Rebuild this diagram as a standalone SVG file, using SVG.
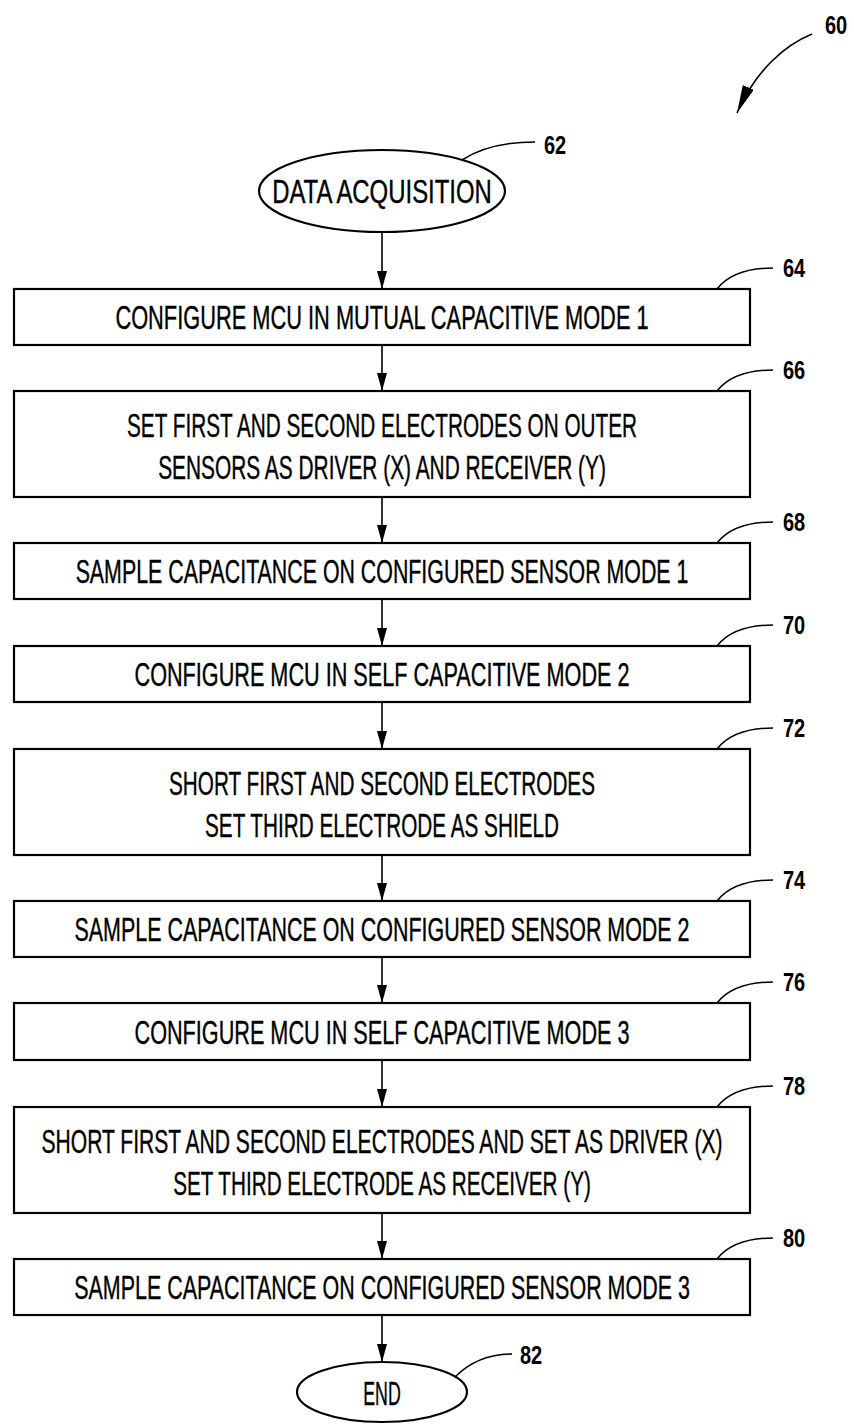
<svg xmlns="http://www.w3.org/2000/svg" width="854" height="1425" viewBox="0 0 854 1425">
<style>
.box{fill:#fff;stroke:#000;stroke-width:2.2}
.t{font-family:"Liberation Sans",Arial,sans-serif;font-size:34px;fill:#000;stroke:#000;stroke-width:0.4;text-anchor:middle}
.lbl{font-family:"Liberation Sans",Arial,sans-serif;font-size:25px;font-weight:bold;fill:#000}
.lead{fill:none;stroke:#000;stroke-width:1.6}
.conn{fill:none;stroke:#000;stroke-width:1.6}
</style>
<defs>
<marker id="ah" markerUnits="userSpaceOnUse" markerWidth="18" markerHeight="10" refX="18" refY="5" orient="auto">
<path d="M0,0 L18,5 L0,10 z" fill="#000"/>
</marker>
<marker id="ahb" markerUnits="userSpaceOnUse" markerWidth="28" markerHeight="12" refX="28" refY="6" orient="auto">
<path d="M0,0 L28,6 L0,12 z" fill="#000"/>
</marker>
</defs>

<g id="ref60">
<path class="lead" d="M812,34 C785,45 756,70 737,113" marker-end="url(#ahb)"/>
<text class="lbl" transform="translate(825,34) scale(0.8,1)">60</text>
</g>

<g id="n62">
<ellipse class="box" cx="382" cy="191" rx="123" ry="41"/>
<text class="t" transform="translate(382,203) scale(0.75,1)" textLength="293" lengthAdjust="spacingAndGlyphs">DATA ACQUISITION</text>
<path class="lead" d="M462,160 C482,147 505,142 535,142"/>
<text class="lbl" transform="translate(544,154) scale(0.8,1)">62</text>
</g>

<g id="n64">
<rect class="box" x="14" y="289" width="736" height="56"/>
<text class="t" transform="translate(382,329) scale(0.75,1)" textLength="711" lengthAdjust="spacingAndGlyphs">CONFIGURE MCU IN MUTUAL CAPACITIVE MODE 1</text>
<path class="lead" d="M717,289 C728,275 745,268 773,268"/>
<text class="lbl" transform="translate(783,277) scale(0.8,1)">64</text>
</g>

<g id="n66">
<rect class="box" x="14" y="391" width="736" height="106"/>
<text class="t" transform="translate(382,437) scale(0.75,1)" textLength="680" lengthAdjust="spacingAndGlyphs">SET FIRST AND SECOND ELECTRODES ON OUTER</text>
<text class="t" transform="translate(382,479) scale(0.75,1)" textLength="597" lengthAdjust="spacingAndGlyphs">SENSORS AS DRIVER (X) AND RECEIVER (Y)</text>
<path class="lead" d="M717,391 C728,377 745,370 773,370"/>
<text class="lbl" transform="translate(783,379) scale(0.8,1)">66</text>
</g>

<g id="n68">
<rect class="box" x="14" y="543" width="736" height="56"/>
<text class="t" transform="translate(382,583) scale(0.75,1)" textLength="817" lengthAdjust="spacingAndGlyphs">SAMPLE CAPACITANCE ON CONFIGURED SENSOR MODE 1</text>
<path class="lead" d="M717,543 C728,529 745,522 773,522"/>
<text class="lbl" transform="translate(783,531) scale(0.8,1)">68</text>
</g>

<g id="n70">
<rect class="box" x="14" y="646" width="736" height="56"/>
<text class="t" transform="translate(382,686) scale(0.75,1)" textLength="660" lengthAdjust="spacingAndGlyphs">CONFIGURE MCU IN SELF CAPACITIVE MODE 2</text>
<path class="lead" d="M717,646 C728,632 745,625 773,625"/>
<text class="lbl" transform="translate(783,634) scale(0.8,1)">70</text>
</g>

<g id="n72">
<rect class="box" x="14" y="749" width="736" height="106"/>
<text class="t" transform="translate(382,795) scale(0.75,1)" textLength="568" lengthAdjust="spacingAndGlyphs">SHORT FIRST AND SECOND ELECTRODES</text>
<text class="t" transform="translate(382,837) scale(0.75,1)" textLength="472" lengthAdjust="spacingAndGlyphs">SET THIRD ELECTRODE AS SHIELD</text>
<path class="lead" d="M717,749 C728,735 745,728 773,728"/>
<text class="lbl" transform="translate(783,737) scale(0.8,1)">72</text>
</g>

<g id="n74">
<rect class="box" x="14" y="901" width="736" height="56"/>
<text class="t" transform="translate(382,941) scale(0.75,1)" textLength="820" lengthAdjust="spacingAndGlyphs">SAMPLE CAPACITANCE ON CONFIGURED SENSOR MODE 2</text>
<path class="lead" d="M717,901 C728,887 745,880 773,880"/>
<text class="lbl" transform="translate(783,889) scale(0.8,1)">74</text>
</g>

<g id="n76">
<rect class="box" x="14" y="1003" width="736" height="57"/>
<text class="t" transform="translate(382,1044) scale(0.75,1)" textLength="660" lengthAdjust="spacingAndGlyphs">CONFIGURE MCU IN SELF CAPACITIVE MODE 3</text>
<path class="lead" d="M717,1003 C728,989 745,982 773,982"/>
<text class="lbl" transform="translate(783,991) scale(0.8,1)">76</text>
</g>

<g id="n78">
<rect class="box" x="14" y="1107" width="736" height="106"/>
<text class="t" transform="translate(382,1153) scale(0.6,1)" textLength="1135" lengthAdjust="spacingAndGlyphs">SHORT FIRST AND SECOND ELECTRODES AND SET AS DRIVER (X)</text>
<text class="t" transform="translate(382,1195) scale(0.75,1)" textLength="557" lengthAdjust="spacingAndGlyphs">SET THIRD ELECTRODE AS RECEIVER (Y)</text>
<path class="lead" d="M717,1107 C728,1093 745,1086 773,1086"/>
<text class="lbl" transform="translate(783,1095) scale(0.8,1)">78</text>
</g>

<g id="n80">
<rect class="box" x="14" y="1259" width="736" height="56"/>
<text class="t" transform="translate(382,1299) scale(0.75,1)" textLength="821" lengthAdjust="spacingAndGlyphs">SAMPLE CAPACITANCE ON CONFIGURED SENSOR MODE 3</text>
<path class="lead" d="M717,1259 C728,1245 745,1238 773,1238"/>
<text class="lbl" transform="translate(783,1247) scale(0.8,1)">80</text>
</g>

<g id="n82">
<ellipse class="box" cx="382" cy="1392" rx="85" ry="30"/>
<text class="t" transform="translate(382,1405) scale(0.75,1)" textLength="50" lengthAdjust="spacingAndGlyphs">END</text>
<path class="lead" d="M455,1377 C470,1362 490,1354 512,1354"/>
<text class="lbl" transform="translate(520,1364) scale(0.8,1)">82</text>
</g>

<g id="connectors">
<line class="conn" x1="382" y1="232" x2="382" y2="289" marker-end="url(#ah)"/>
<line class="conn" x1="382" y1="345" x2="382" y2="391" marker-end="url(#ah)"/>
<line class="conn" x1="382" y1="497" x2="382" y2="543" marker-end="url(#ah)"/>
<line class="conn" x1="382" y1="599" x2="382" y2="646" marker-end="url(#ah)"/>
<line class="conn" x1="382" y1="702" x2="382" y2="749" marker-end="url(#ah)"/>
<line class="conn" x1="382" y1="855" x2="382" y2="901" marker-end="url(#ah)"/>
<line class="conn" x1="382" y1="957" x2="382" y2="1003" marker-end="url(#ah)"/>
<line class="conn" x1="382" y1="1060" x2="382" y2="1107" marker-end="url(#ah)"/>
<line class="conn" x1="382" y1="1213" x2="382" y2="1259" marker-end="url(#ah)"/>
<line class="conn" x1="382" y1="1315" x2="382" y2="1362" marker-end="url(#ah)"/>
</g>
</svg>
